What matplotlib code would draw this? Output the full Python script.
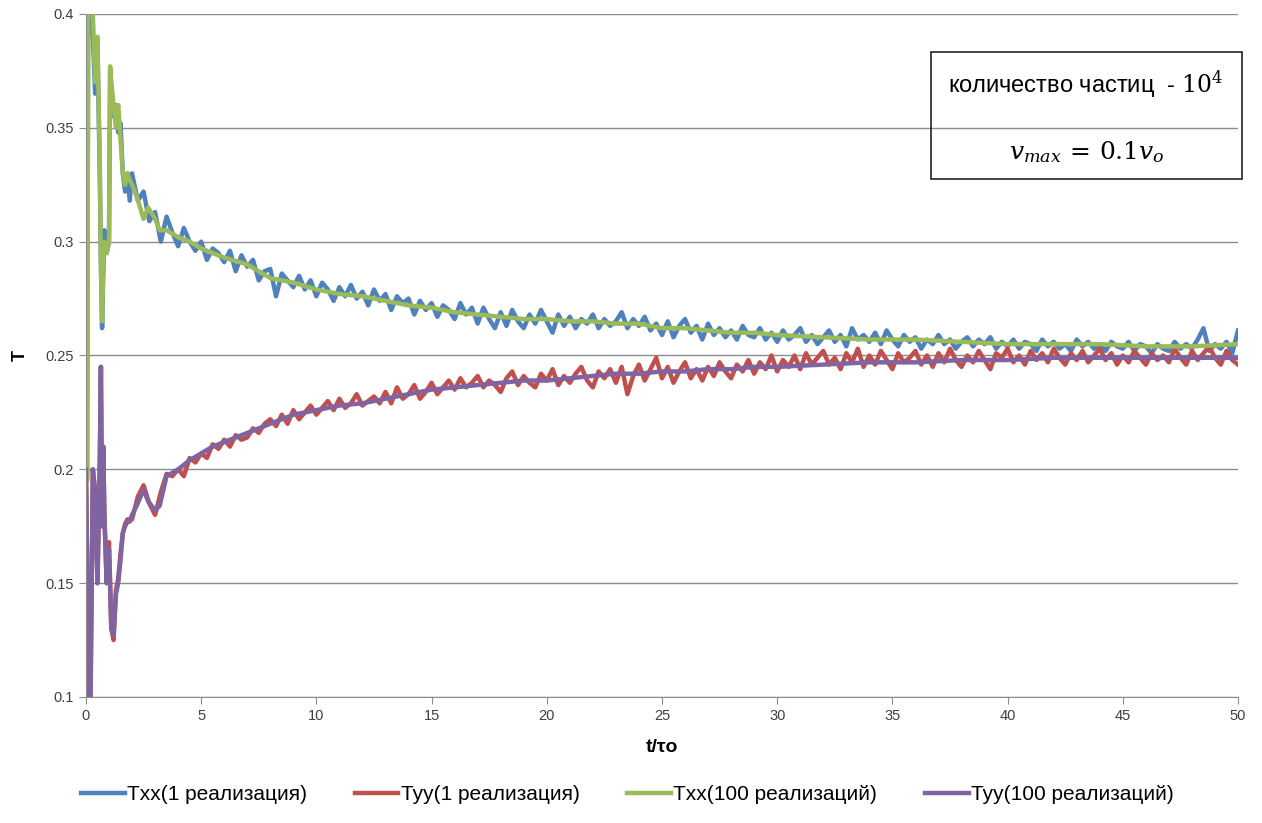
import matplotlib.pyplot as plt
import numpy as np

# ---- данные ----
# ранний участок (t < 2), общий для всех серий
t_early = [0.0, 0.05, 0.1, 0.2, 0.3, 0.4, 0.5, 0.6, 0.65, 0.7, 0.75, 0.8, 0.9, 1.0,
           1.05, 1.1, 1.2, 1.3, 1.4, 1.5, 1.6, 1.7, 1.8, 1.9]

txx_1_early = [0.198, 0.196, 0.41, 0.40, 0.39, 0.365, 0.385, 0.33, 0.29, 0.262, 0.285, 0.305,
               0.295, 0.30, 0.375, 0.368, 0.355, 0.36, 0.348, 0.352, 0.33, 0.322, 0.33, 0.318]
txx_100_early = [0.195, 0.195, 0.42, 0.41, 0.40, 0.37, 0.39, 0.335, 0.29, 0.265, 0.29, 0.30,
                 0.295, 0.30, 0.377, 0.37, 0.36, 0.35, 0.36, 0.345, 0.33, 0.325, 0.33, 0.327]
tyy_1_early = [0.2, 0.16, 0.10, 0.10, 0.20, 0.19, 0.15, 0.205, 0.245, 0.175, 0.21, 0.18,
               0.15, 0.168, 0.148, 0.13, 0.125, 0.147, 0.152, 0.163, 0.172, 0.176, 0.178, 0.178]
tyy_100_early = [0.2, 0.16, 0.10, 0.10, 0.20, 0.19, 0.15, 0.20, 0.245, 0.175, 0.21, 0.18,
                 0.15, 0.165, 0.15, 0.13, 0.127, 0.145, 0.15, 0.16, 0.172, 0.175, 0.177, 0.177]

# шумные серии (1 реализация), шаг 0.25 от t = 2 до t = 50
t_noisy = np.arange(2.0, 50.001, 0.25)

txx_1 = [
    0.330, 0.318, 0.322, 0.309, 0.313, 0.300, 0.311, 0.304,
    0.298, 0.306, 0.300, 0.296, 0.300, 0.292, 0.297, 0.295,
    0.291, 0.296, 0.287, 0.294, 0.289, 0.292, 0.283, 0.287,
    0.288, 0.276, 0.286, 0.283, 0.280, 0.285, 0.279, 0.283,
    0.276, 0.282, 0.279, 0.274, 0.280, 0.276, 0.281, 0.275,
    0.278, 0.272, 0.279, 0.274, 0.277, 0.270, 0.276, 0.273,
    0.275, 0.268, 0.274, 0.270, 0.273, 0.267, 0.272, 0.270,
    0.266, 0.273, 0.268, 0.271, 0.264, 0.271, 0.266, 0.262,
    0.269, 0.263, 0.270, 0.265, 0.262, 0.268, 0.264, 0.270,
    0.265, 0.260, 0.268, 0.263, 0.267, 0.262, 0.266, 0.264,
    0.268, 0.262, 0.266, 0.263, 0.265, 0.269, 0.262, 0.266,
    0.263, 0.267, 0.261, 0.264, 0.259, 0.265, 0.258, 0.263,
    0.266, 0.260, 0.263, 0.257, 0.264, 0.259, 0.262, 0.258,
    0.261, 0.257, 0.263, 0.259, 0.258, 0.262, 0.257, 0.260,
    0.256, 0.261, 0.257, 0.259, 0.262, 0.256, 0.259, 0.255,
    0.258, 0.261, 0.256, 0.259, 0.254, 0.262, 0.257, 0.259,
    0.256, 0.260, 0.255, 0.261, 0.257, 0.254, 0.259, 0.256,
    0.258, 0.253, 0.257, 0.255, 0.259, 0.255, 0.257, 0.253,
    0.256, 0.258, 0.254, 0.257, 0.255, 0.258, 0.253, 0.256,
    0.254, 0.257, 0.253, 0.256, 0.255, 0.252, 0.257, 0.254,
    0.256, 0.253, 0.255, 0.252, 0.257, 0.254, 0.256, 0.253,
    0.255, 0.252, 0.256, 0.254, 0.253, 0.256, 0.252, 0.255,
    0.254, 0.251, 0.255, 0.253, 0.252, 0.256, 0.253, 0.255,
    0.253, 0.257, 0.262, 0.252, 0.255, 0.253, 0.256, 0.251,
    0.261,
]

tyy_1 = [
    0.178, 0.188, 0.193, 0.185, 0.180, 0.190, 0.198, 0.197,
    0.200, 0.197, 0.205, 0.203, 0.207, 0.205, 0.211, 0.209,
    0.213, 0.210, 0.215, 0.213, 0.214, 0.218, 0.216, 0.220,
    0.222, 0.219, 0.224, 0.220, 0.226, 0.222, 0.225, 0.228,
    0.224, 0.227, 0.230, 0.226, 0.231, 0.227, 0.229, 0.233,
    0.228, 0.230, 0.232, 0.229, 0.234, 0.229, 0.236, 0.231,
    0.233, 0.237, 0.231, 0.234, 0.238, 0.233, 0.236, 0.239,
    0.235, 0.240, 0.236, 0.238, 0.241, 0.236, 0.239, 0.237,
    0.234, 0.240, 0.243, 0.237, 0.241, 0.238, 0.236, 0.242,
    0.239, 0.244, 0.237, 0.241, 0.238, 0.242, 0.245, 0.239,
    0.236, 0.243, 0.240, 0.244, 0.238, 0.245, 0.233, 0.241,
    0.246, 0.239, 0.244, 0.249, 0.240, 0.245, 0.238, 0.243,
    0.247, 0.240, 0.244, 0.239, 0.245, 0.241, 0.247, 0.243,
    0.240, 0.246, 0.243, 0.248, 0.242, 0.247, 0.244, 0.250,
    0.243, 0.248, 0.245, 0.250, 0.244, 0.251, 0.246, 0.249,
    0.252, 0.246, 0.249, 0.244, 0.251, 0.247, 0.253, 0.245,
    0.250, 0.246, 0.252, 0.248, 0.244, 0.251, 0.247, 0.249,
    0.252, 0.246, 0.250, 0.245, 0.251, 0.247, 0.253, 0.248,
    0.245, 0.250, 0.247, 0.252, 0.248, 0.244, 0.251, 0.249,
    0.253, 0.247, 0.250, 0.246, 0.252, 0.248, 0.251, 0.247,
    0.253, 0.249, 0.246, 0.251, 0.248, 0.252, 0.247, 0.250,
    0.253, 0.248, 0.251, 0.246, 0.250, 0.247, 0.252, 0.249,
    0.246, 0.251, 0.248, 0.250, 0.247, 0.253, 0.249, 0.246,
    0.252, 0.248, 0.251, 0.254, 0.249, 0.246, 0.252, 0.248,
    0.246,
]

# сглаженные серии (100 реализаций)
t_smooth = [2.0, 2.2, 2.5, 2.7, 3.0, 3.2, 3.5, 4.0, 4.5, 5.0, 5.5, 6.0,
            7, 8, 9, 10, 11, 12, 13, 14, 15, 16, 17, 18, 19, 20, 21, 22, 23, 24,
            25, 26, 27, 28, 29, 30, 32, 34, 36, 38, 40, 42, 44, 46, 48, 50]
txx_100 = [0.325, 0.320, 0.310, 0.315, 0.310, 0.305, 0.305, 0.302, 0.300, 0.297, 0.295, 0.293,
           0.290, 0.284, 0.282, 0.279, 0.277, 0.276, 0.274, 0.272, 0.271, 0.269, 0.268, 0.267,
           0.266, 0.266, 0.265, 0.265, 0.264, 0.264, 0.262, 0.262, 0.261, 0.260, 0.260, 0.259,
           0.258, 0.257, 0.257, 0.256, 0.255, 0.255, 0.255, 0.254, 0.254, 0.255]
tyy_100 = [0.180, 0.184, 0.191, 0.186, 0.182, 0.184, 0.197, 0.200, 0.204, 0.207, 0.210, 0.212,
           0.216, 0.220, 0.224, 0.226, 0.228, 0.229, 0.231, 0.233, 0.235, 0.236, 0.237, 0.238,
           0.239, 0.239, 0.240, 0.241, 0.242, 0.242, 0.243, 0.243, 0.244, 0.244, 0.245, 0.245,
           0.246, 0.247, 0.247, 0.248, 0.248, 0.249, 0.249, 0.249, 0.249, 0.249]

labels = ['Txx(1 реализация)', 'Tyy(1 реализация)', 'Txx(100 реализаций)', 'Tyy(100 реализаций)']
colors = ['#4F81BD', '#C0504D', '#9BBB59', '#8064A2']

x_ticks = [0, 5, 10, 15, 20, 25, 30, 35, 40, 45, 50]
y_ticks = [0.1, 0.15, 0.2, 0.25, 0.3, 0.35, 0.4]

# ---- график ----
plt.rcParams['font.family'] = ['Liberation Sans', 'DejaVu Sans']
plt.rcParams['mathtext.fontset'] = 'dejavuserif'

fig = plt.figure(figsize=(12.62, 8.23), dpi=100)
ax = fig.add_axes([0.0681, 0.1531, 0.9129, 0.8299])

series = [
    (t_early + list(t_noisy), txx_1_early + txx_1),
    (t_early + list(t_noisy), tyy_1_early + tyy_1),
    (t_early + t_smooth, txx_100_early + txx_100),
    (t_early + t_smooth, tyy_100_early + tyy_100),
]
for (t, v), lab, c in zip(series, labels, colors):
    ax.plot(t, v, color=c, linewidth=3.2, label=lab, solid_joinstyle='round')

ax.set_xlim(0, 50)
ax.set_ylim(0.1, 0.4)
ax.set_xticks(x_ticks)
ax.set_yticks(y_ticks)
ax.set_yticklabels([f'{v:g}' for v in y_ticks])
ax.yaxis.grid(True, color='#8C8C8C', linewidth=1)
ax.set_axisbelow(True)
for s in ['top', 'right']:
    ax.spines[s].set_visible(False)
for s in ['left', 'bottom']:
    ax.spines[s].set_color('#8C8C8C')
ax.tick_params(axis='both', colors='#8C8C8C', labelcolor='#404040', labelsize=10.5,
               length=5)

ax.set_xlabel('t/τo', fontsize=14, fontweight='bold', labelpad=12)
ax.set_ylabel('T', fontsize=13, fontweight='bold', labelpad=12)

leg = fig.legend(loc='lower center', bbox_to_anchor=(0.497, 0.0), ncol=4, frameon=False,
                 fontsize=15, handlelength=2.1, columnspacing=2.3, handletextpad=0.1)
for line in leg.get_lines():
    line.set_linewidth(3.2)

# подпись в рамке
box = plt.Rectangle((931 / 1262, 1 - 179 / 823), 311 / 1262, 127 / 823,
                    transform=fig.transFigure, fill=False, edgecolor='#222222', linewidth=1.2)
fig.add_artist(box)
fig.text(1086 / 1262, 1 - 84 / 823, 'количество частиц  - $10^4$',
         ha='center', va='center', fontsize=17)
fig.text(1087 / 1262, 1 - 152 / 823, '$v_{max}\\,=\\,0.1v_o$',
         ha='center', va='center', fontsize=18)

plt.savefig('out.png', dpi=100)
plt.close()
